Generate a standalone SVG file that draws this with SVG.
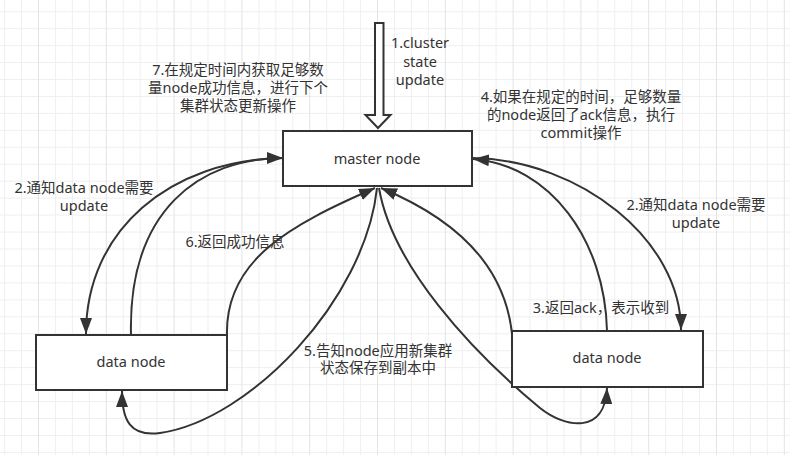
<svg xmlns="http://www.w3.org/2000/svg" width="790" height="455" viewBox="0 0 790 455">
<style>
.box{fill:#fff;stroke:#333;stroke-width:2}
.t{font-family:"Noto Sans","Noto Sans CJK SC",sans-serif;font-size:14.5px;fill:#333;text-anchor:middle}
.c{fill:none;stroke:#333;stroke-width:2}
</style>
<defs>
<pattern id="grid" patternUnits="userSpaceOnUse" x="38" y="11.2" width="67.8" height="16.95">
<rect x="0" y="0" width="67.8" height="1" fill="#efefef"/>
<rect x="16.95" y="0" width="1" height="16.95" fill="#efefef"/>
<rect x="33.9" y="0" width="1" height="16.95" fill="#efefef"/>
<rect x="50.85" y="0" width="1" height="16.95" fill="#efefef"/>
<rect x="0" y="0" width="1" height="16.95" fill="#e4e4e4"/>
</pattern>
<marker id="ah" markerUnits="userSpaceOnUse" viewBox="0 0 16 12" refX="16" refY="6" markerWidth="16" markerHeight="12" orient="auto">
<path d="M0 0 L16 6 L0 12 Z" fill="#333"/>
</marker>
</defs>
<rect width="790" height="455" fill="#fff"/>
<rect width="790" height="455" fill="url(#grid)"/>

<g id="connectors">
<polygon points="375,23 383.5,23 383.5,115 390.5,115 378,128 365.5,115 375,115" fill="#fff" stroke="#333" stroke-width="2"/>
<path class="c" d="M283 158 C170 160 86 230 86 334" marker-end="url(#ah)"/>
<path class="c" d="M131 335 C128 210 200 158 283 158" marker-end="url(#ah)"/>
<path class="c" d="M227 335 C225 260 290 225 375 188" marker-end="url(#ah)"/>
<path class="c" d="M377 188 C365 300 250 420 160 433 C130 437 122 420 122 391" marker-end="url(#ah)"/>
<path class="c" d="M379 188 C392 265 470 350 540 408 C565 428 605 435 607 388" marker-end="url(#ah)"/>
<path class="c" d="M513 358 C515 280 470 225 381 188" marker-end="url(#ah)"/>
<path class="c" d="M607 331 C605 240 550 165 473 159" marker-end="url(#ah)"/>
<path class="c" d="M473 158 C580 160 681 240 681 330" marker-end="url(#ah)"/>
</g>

<g id="master">
<rect class="box" x="283" y="131" width="189" height="55"/>
<text class="t" x="377" y="164">master node</text>
</g>
<g id="data-left">
<rect class="box" x="36" y="335" width="191" height="55"/>
<text class="t" x="131" y="367">data node</text>
</g>
<g id="data-right">
<rect class="box" x="512" y="331" width="191" height="56"/>
<text class="t" x="607" y="363">data node</text>
</g>

<g id="labels">
<text class="t" x="420" y="48">1.cluster<tspan x="420" dy="19">state</tspan><tspan x="420" dy="18">update</tspan></text>
<text class="t" x="238" y="75">7.在规定时间内获取足够数<tspan x="238" dy="18">量node成功信息，进行下个</tspan><tspan x="238" dy="18">集群状态更新操作</tspan></text>
<text class="t" x="581" y="102">4.如果在规定的时间，足够数量<tspan x="581" dy="18">的node返回了ack信息，执行</tspan><tspan x="581" dy="18">commit操作</tspan></text>
<text class="t" x="84" y="193">2.通知data node需要<tspan x="84" dy="18">update</tspan></text>
<text class="t" x="235" y="247">6.返回成功信息</text>
<text class="t" x="696" y="210">2.通知data node需要<tspan x="696" dy="18">update</tspan></text>
<text class="t" x="601" y="313">3.返回ack，表示收到</text>
<text class="t" x="378" y="356">5.告知node应用新集群<tspan x="378" dy="17">状态保存到副本中</tspan></text>
</g>
</svg>
